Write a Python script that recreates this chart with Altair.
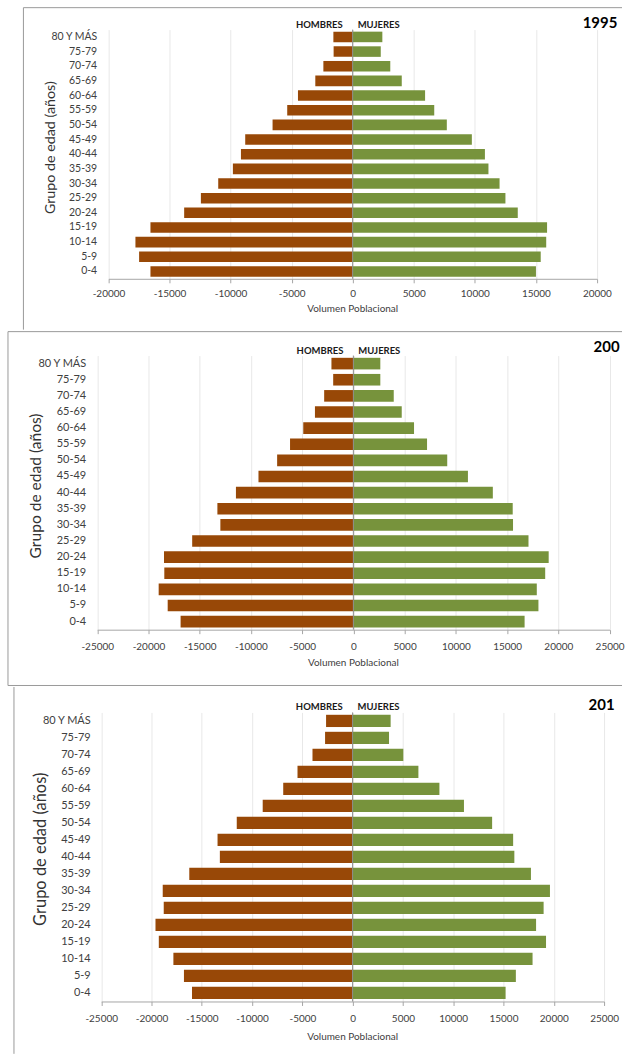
import altair as alt
import pandas as pd

FONT = "Lato"
BROWN = "#984807"
GREEN = "#77933C"
FRAME = "#9a9a9a"

grupos = ["80 Y MÁS", "75-79", "70-74", "65-69", "60-64", "55-59", "50-54", "45-49",
          "40-44", "35-39", "30-34", "25-29", "20-24", "15-19", "10-14", "5-9", "0-4"]

hombres_1995 = [-1580, -1560, -2400, -3060, -4480, -5360, -6560, -8800, -9150, -9810,
                -11010, -12430, -13800, -16560, -17790, -17490, -16560]
mujeres_1995 = [2430, 2300, 3080, 4020, 5930, 6680, 7710, 9760, 10830, 11120,
                12030, 12510, 13520, 15920, 15850, 15400, 15010]

hombres_2005 = [-2140, -1970, -2850, -3750, -4890, -6180, -7440, -9260, -11460, -13270,
                -12980, -15730, -18480, -18450, -19000, -18120, -16860]
mujeres_2005 = [2630, 2630, 3940, 4720, 5920, 7190, 9160, 11180, 13610, 15550,
                15580, 17090, 19060, 18720, 17900, 18060, 16710]

hombres_2015 = [-2640, -2740, -3990, -5480, -6900, -8940, -11520, -13430, -13200, -16240,
                -18880, -18780, -19600, -19270, -17820, -16770, -15970]
mujeres_2015 = [3780, 3620, 5040, 6540, 8630, 11070, 13870, 15960, 16080, 17730,
                19620, 18990, 18240, 19230, 17890, 16230, 15210]

ticks_20 = [-20000, -15000, -10000, -5000, 0, 5000, 10000, 15000, 20000]
ticks_25 = [-25000, -20000, -15000, -10000, -5000, 0, 5000, 10000, 15000, 20000, 25000]

one = pd.DataFrame({"a": [0]})


def panel(year, hombres, mujeres, ticks, p):
    df = pd.DataFrame({
        "grupo": grupos * 2,
        "sexo": ["Hombres"] * len(grupos) + ["Mujeres"] * len(grupos),
        "valor": hombres + mujeres,
    })
    h = p["h"]
    xscale = alt.Scale(domain=[ticks[0], ticks[-1]], range=p["xrange"], nice=False)
    xaxis = alt.Axis(values=ticks, title=None, grid=True, gridColor="#e8e8e8", gridWidth=1,
                     domainColor="#a6a6a6", tickColor="#a6a6a6", tickSize=4,
                     labelPadding=p["xlabpad"], labelFont=FONT, labelFontSize=10,
                     labelColor="#404040", labelExpr="'' + datum.value", labelOverlap=False,
                     labelFlush=False, labelBound=False)
    yaxis = alt.Axis(title=None, domain=False, ticks=False, tickSize=0,
                     labelPadding=p["ylabpad"], labelFont=FONT, labelFontSize=p["ylabsize"],
                     labelColor="#404040")
    bars = alt.Chart(df).mark_bar().encode(
        x=alt.X("valor:Q", scale=xscale, axis=xaxis, stack=None),
        x2=alt.datum(0),
        y=alt.Y("grupo:N", sort=grupos,
                scale=alt.Scale(paddingInner=0.28, paddingOuter=0.14), axis=yaxis),
        color=alt.Color("sexo:N", scale=alt.Scale(domain=["Hombres", "Mujeres"],
                                                  range=[BROWN, GREEN]), legend=None),
    )
    zero = alt.Chart(one).mark_rule(color="#8c8c8c", strokeWidth=1).encode(
        x=alt.datum(0), y=alt.value(0), y2=alt.value(h))
    hom = alt.Chart(one).mark_text(text="HOMBRES", align="right", baseline="middle", dx=-10,
                                   font=FONT, fontSize=9.5, fontWeight="bold",
                                   color="#1a1a1a").encode(x=alt.datum(0), y=alt.value(-5))
    muj = alt.Chart(one).mark_text(text="MUJERES", align="left", baseline="middle", dx=5,
                                   font=FONT, fontSize=9.5, fontWeight="bold",
                                   color="#1a1a1a").encode(x=alt.datum(0), y=alt.value(-5))
    tkw = dict(text=str(year), align="left", baseline="middle", font=FONT, fontSize=15,
               fontWeight="bold", color="#000000")
    if p.get("limit"):
        tkw.update(limit=p["limit"], ellipsis="\u200b")
    title = alt.Chart(one).mark_text(**tkw).encode(x=alt.value(p["tx"]), y=alt.value(p["ty"]))
    xtitle = alt.Chart(one).mark_text(text="Volumen Poblacional", align="center",
                                      baseline="middle", font=FONT, fontSize=10,
                                      color="#404040").encode(
        x=alt.datum(0), y=alt.value(h + p["xtoff"]))
    ytitle = alt.Chart(one).mark_text(text="Grupo de edad (años)", align="center",
                                      baseline="middle", angle=270, font=FONT,
                                      fontSize=p["ytsize"], color="#333333").encode(
        x=alt.value(p["ytx"]), y=alt.value(p["yty"]))
    layers = [bars, zero, hom, muj, title, xtitle, ytitle]
    fl = p["frame"]
    layers.append(alt.Chart(one).mark_rule(color=FRAME, strokeWidth=1).encode(
        x=alt.value(fl["left"]), y=alt.value(fl["top"]), y2=alt.value(fl["bottom"])))
    if fl.get("topline"):
        layers.append(alt.Chart(one).mark_rule(color=FRAME, strokeWidth=1).encode(
            x=alt.value(fl["left"]), x2=alt.value(527), y=alt.value(fl["top"])))
    if fl.get("bottomline"):
        layers.append(alt.Chart(one).mark_rule(color=FRAME, strokeWidth=1).encode(
            x=alt.value(fl["left"]), x2=alt.value(527), y=alt.value(fl["bottom"])))
    return alt.layer(*layers).properties(width=515, height=h)


p1 = panel(1995, hombres_1995, mujeres_1995, ticks_20, dict(
    h=250, xrange=[11.8, 501.8], xlabpad=6, ylabpad=0, ylabsize=10.5,
    tx=487.5, ty=-6.7, xtoff=30.5, ytx=-45.9, yty=118.5, ytsize=14.3,
    frame=dict(left=-73.5, top=-22, bottom=301, topline=True)))
p2 = panel(2005, hombres_2005, mujeres_2005, ticks_25, dict(
    h=275, xrange=[0.5, 514.5], xlabpad=7.5, ylabpad=11, ylabsize=11,
    tx=498.5, ty=-8.2, limit=30, xtoff=33.5, ytx=-60.6, yty=130.8, ytsize=15.6,
    frame=dict(left=-89, top=-24, bottom=331, topline=True, bottomline=True)))
p3 = panel(2015, hombres_2015, mujeres_2015, ticks_25, dict(
    h=290, xrange=[4.5, 509], xlabpad=8.4, ylabpad=6.5, ylabsize=11,
    tx=493.5, ty=-7.3, limit=33, xtoff=35.7, ytx=-55.5, yty=137.3, ytsize=16.5,
    frame=dict(left=-83, top=-25.5, bottom=342.5)))

chart = alt.vconcat(p1, p2, p3, spacing=0, bounds="full").properties(
    padding={"left": 7, "top": 5, "right": 0, "bottom": 0},
    background="white",
).configure_view(stroke=None)

chart.save("out.html", embed_options={"renderer": "svg", "actions": False})
